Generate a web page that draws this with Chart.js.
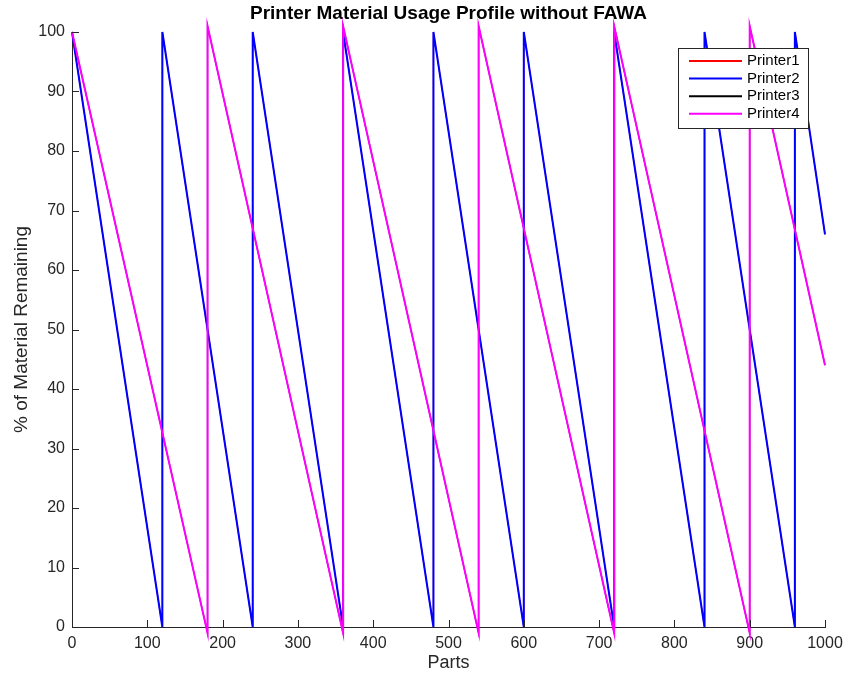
<!DOCTYPE html>
<html>
<head>
<meta charset="utf-8">
<script src="https://cdn.jsdelivr.net/npm/chart.js@4/dist/chart.umd.min.js"></script>
<style>
  html, body { margin: 0; padding: 0; background: #fff; }
  #wrap { width: 847px; height: 678px; }
</style>
</head>
<body>
<div id="wrap"><canvas id="usageChart" width="847" height="678"></canvas></div>
<script>
// values (parts, % remaining) - vertical jumps are refills
var printer1Parts = [0, 120, 120, 240, 240, 360, 360, 480, 480, 600, 600, 720, 720, 840, 840, 960, 960, 1000];
var printer1Level = [100, 0, 100, 0, 100, 0, 100, 0, 100, 0, 100, 0, 100, 0, 100, 0, 100, 66];
var printer2Parts = [0, 120, 120, 240, 240, 360, 360, 480, 480, 600, 600, 720, 720, 840, 840, 960, 960, 1000];
var printer2Level = [100, 0, 100, 0, 100, 0, 100, 0, 100, 0, 100, 0, 100, 0, 100, 0, 100, 66];
var printer3Parts = [0, 180, 180, 360, 360, 540, 540, 720, 720, 900, 900, 1000];
var printer3Level = [100, -1, 101, -1, 101, -1, 101, -1, 101, -1, 101, 44];
var printer4Parts = [0, 180, 180, 360, 360, 540, 540, 720, 720, 900, 900, 1000];
var printer4Level = [100, -1, 101, -1, 101, -1, 101, -1, 101, -1, 101, 44];

var xTicks = [0, 100, 200, 300, 400, 500, 600, 700, 800, 900, 1000];
var yTicks = [0, 10, 20, 30, 40, 50, 60, 70, 80, 90, 100];

var axisColor = '#262626';
var fontFamily = '"Liberation Sans", Arial, Helvetica, sans-serif';

function toPoints(xs, ys) {
    return xs.map(function (x, i) { return { x: x, y: ys[i] }; });
}

function series(label, xs, ys, color, order, width) {
    return {
        label: label,
        data: toPoints(xs, ys),
        borderColor: color,
        backgroundColor: color,
        borderWidth: width,
        pointRadius: 0,
        tension: 0,
        fill: false,
        clip: false,
        order: order
    };
}

// MATLAB style: ticks pointing into the plot, boxed legend in the corner
var matlabBits = {
    id: 'matlabBits',
    afterDraw: function (chart) {
        var ctx = chart.ctx;
        var xs = chart.scales.x, ys = chart.scales.y;
        var area = chart.chartArea;
        ctx.save();
        ctx.strokeStyle = axisColor;
        ctx.lineWidth = 1;
        ctx.beginPath();
        xTicks.forEach(function (v) {
            var px = Math.round(xs.getPixelForValue(v)) + 0.5;
            ctx.moveTo(px, area.bottom);
            ctx.lineTo(px, area.bottom - 7);
        });
        yTicks.forEach(function (v) {
            var py = Math.round(ys.getPixelForValue(v)) + 0.5;
            ctx.moveTo(area.left, py);
            ctx.lineTo(area.left + 7, py);
        });
        ctx.stroke();

        // legend
        var bx = 678.5, by = 48.5, bw = 130, bh = 80;
        ctx.fillStyle = '#fff';
        ctx.fillRect(bx, by, bw, bh);
        ctx.strokeStyle = axisColor;
        ctx.strokeRect(bx, by, bw, bh);
        ctx.font = '15px ' + fontFamily;
        ctx.textBaseline = 'middle';
        ctx.textAlign = 'left';
        chart.data.datasets.forEach(function (ds, i) {
            var y = 61 + i * 17.6;
            ctx.strokeStyle = ds.borderColor;
            ctx.lineWidth = 2;
            ctx.beginPath();
            ctx.moveTo(689, y);
            ctx.lineTo(742, y);
            ctx.stroke();
            ctx.fillStyle = '#000';
            ctx.fillText(ds.label, 747, y);
        });
        ctx.restore();
    }
};

var ctx = document.getElementById('usageChart').getContext('2d');
var usageChart = new Chart(ctx, {
    type: 'line',
    data: {
        datasets: [
            series('Printer1', printer1Parts, printer1Level, '#ff0000', 4, 1.2),
            series('Printer2', printer2Parts, printer2Level, '#0000ff', 3, 2),
            series('Printer3', printer3Parts, printer3Level, '#000000', 2, 1.2),
            series('Printer4', printer4Parts, printer4Level, '#ff00ff', 1, 2)
        ]
    },
    options: {
        responsive: false,
        animation: false,
        layout: { padding: { left: 0, right: 22, top: 0, bottom: 0 } },
        plugins: {
            legend: { display: false },
            tooltip: { enabled: false },
            title: {
                display: true,
                fullSize: false,
                text: 'Printer Material Usage Profile without FAWA',
                color: '#000',
                font: { family: fontFamily, size: 19, weight: 'bold' },
                padding: { top: 2.6, bottom: 6.6 }
            }
        },
        scales: {
            x: {
                type: 'linear',
                min: 0,
                max: 1000,
                afterFit: function (scale) {
                    scale.height = 51;
                    scale.paddingLeft = 0;
                    scale.paddingRight = 0;
                },
                afterBuildTicks: function (scale) {
                    scale.ticks = xTicks.map(function (v) { return { value: v }; });
                },
                grid: { display: false, drawTicks: false },
                border: { display: true, color: axisColor, width: 1 },
                ticks: {
                    color: axisColor,
                    padding: 7,
                    maxRotation: 0,
                    font: { family: fontFamily, size: 16 },
                    callback: function (v) { return String(v); }
                },
                title: {
                    display: true,
                    text: 'Parts',
                    color: axisColor,
                    font: { family: fontFamily, size: 18 },
                    padding: { top: 0, bottom: 4 }
                }
            },
            y: {
                type: 'linear',
                min: 0,
                max: 100,
                afterFit: function (scale) {
                    scale.width = 72;
                    scale.paddingTop = 0;
                    scale.paddingBottom = 0;
                },
                afterBuildTicks: function (scale) {
                    scale.ticks = yTicks.map(function (v) { return { value: v }; });
                },
                grid: { display: false, drawTicks: false },
                border: { display: true, color: axisColor, width: 1 },
                ticks: {
                    color: axisColor,
                    padding: 7,
                    font: { family: fontFamily, size: 16 },
                    callback: function (v) { return String(v); }
                },
                title: {
                    display: true,
                    text: '% of Material Remaining',
                    color: axisColor,
                    font: { family: fontFamily, size: 19 },
                    padding: { top: 10.6, bottom: 0 }
                }
            }
        }
    },
    plugins: [matlabBits]
});
</script>
</body>
</html>
